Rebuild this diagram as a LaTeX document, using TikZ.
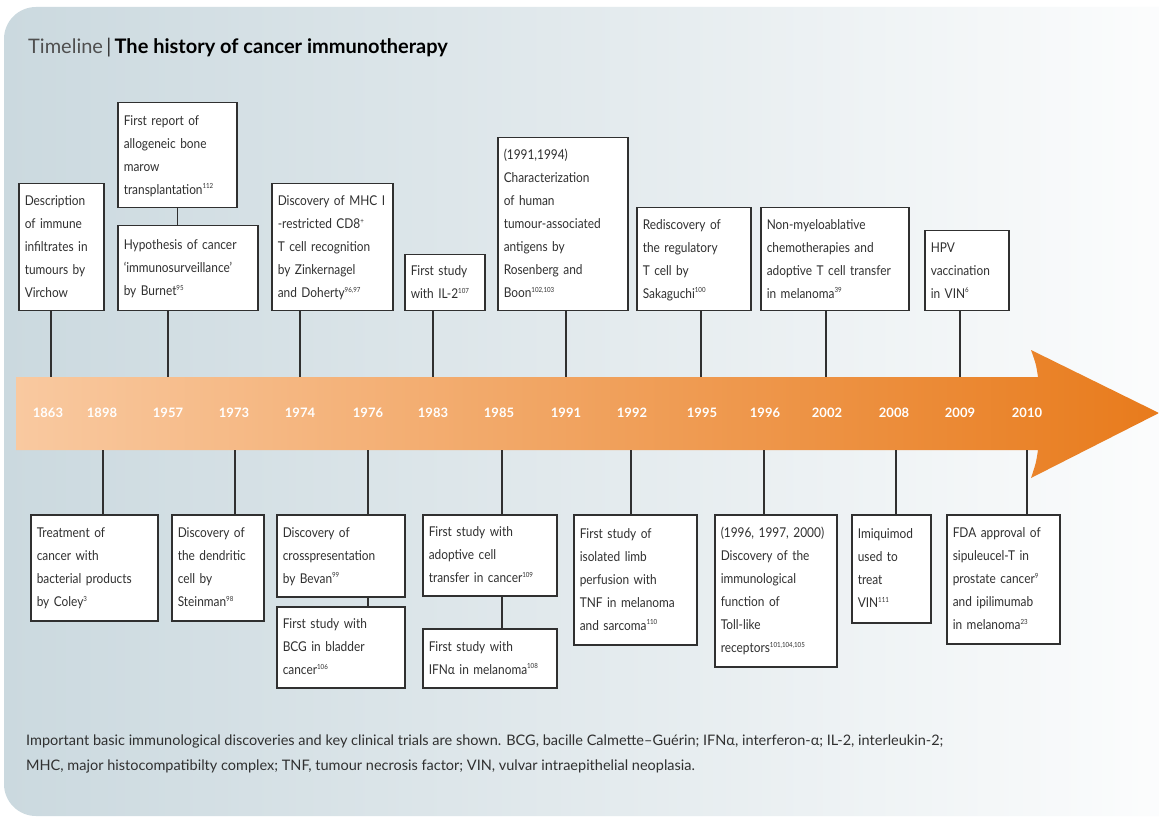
\documentclass[tikz,border=0pt]{standalone}
\usepackage{fontspec}
\setmainfont{Lato}
\newfontfamily\boxfont{Lato}[FakeStretch=0.88]
\definecolor{panelL}{HTML}{CBD9DF}
\definecolor{panelM}{HTML}{E4EBEE}
\definecolor{arrL}{HTML}{F9C9A0}
\definecolor{arrR}{HTML}{E87B1C}
\definecolor{ink}{HTML}{303030}
\newcommand\supref[1]{\raisebox{0.8ex}{\fontsize{7}{7}\selectfont #1}}
\newcommand\boxlines[1]{\begin{tabular}{@{}l@{}}#1\end{tabular}}
\begin{document}
\begin{tikzpicture}[x=1pt,y=-1pt,
  box/.style={draw=ink, line width=1.5pt, fill=white, anchor=north west, inner xsep=6pt, inner ysep=2pt,
    align=left, font=\boxfont\fontsize{13.5}{23}\selectfont, text=ink},
  conn/.style={draw=ink, line width=1.1pt},
  yr/.style={text=white, font=\bfseries\fontsize{13}{13}\selectfont, inner sep=0pt}]
\useasboundingbox (0,0) rectangle (1159,818);
\fill[white] (0,0) rectangle (1159,818);
\shade[left color=panelL, right color=white, middle color=panelM, rounded corners=32pt] (4,7) rectangle (1240,816);
% arrow
\shade[left color=arrL, right color=arrR] (16,377) -- (1038,377) .. controls (1036,364) .. (1031,350)
  -- (1159,413) -- (1031,478) .. controls (1036,463) .. (1038,450) -- (16,450) -- cycle;
% title
\node[anchor=west, inner sep=0pt, font=\fontsize{20}{20}\selectfont, text=ink] (title) at (28,48)
  {{\color{ink!85}Timeline}\,|\,\textbf{\color{black}The history of cancer immunotherapy}};
% years
\foreach \y/\x in {1863/48,1898/102,1957/168,1973/234,1974/300,1976/368,1983/433,1985/499,1991/566,1992/632,1995/702,1996/765,2002/827,2008/894,2009/960,2010/1027}
  \node[yr] (y\y) at (\x,413) {\y};
% connection points on the band
\foreach \n/\x in {1863/51,1957/168,1974/300,1983/433,1991/566,1995/701,2002/826,2009/960}
  \coordinate (t\n) at (\x,377);
\foreach \n/\x in {1898/103,1973/235,1976/368,1985/502,1992/631,1996/764,2008/896,2010/1027}
  \coordinate (b\n) at (\x,450);
% top boxes
\node[box, text width=73pt, minimum height=127pt] (virchow) at (18,183) {\boxlines{Description\\of immune\\infiltrates in\\tumours by\\Virchow}};
\node[box, text width=107pt, minimum height=105pt] (marrow) at (117,102) {\boxlines{First report of\\allogeneic bone\\marow\\transplantation\supref{112}}};
\node[box, text width=128pt, minimum height=85pt] (burnet) at (117,225) {\boxlines{Hypothesis of cancer\\‘immunosurveillance’\\by Burnet\supref{95}}};
\node[box, text width=109pt, minimum height=127pt] (mhc) at (271,183) {\boxlines{Discovery of MHC I\\-restricted CD8\supref{+}\\T cell recognition\\by Zinkernagel\\and Doherty\supref{96,97}}};
\node[box, text width=68pt, minimum height=56pt] (il2) at (404,254) {\boxlines{First study\\with IL-2\supref{107}}};
\node[box, text width=118pt, minimum height=173pt] (rosen) at (497,137) {\boxlines{(1991,1994)\\Characterization\\of human\\tumour-associated\\antigens by\\Rosenberg and\\Boon\supref{102,103}}};
\node[box, text width=102pt, minimum height=103pt] (sakag) at (636,207) {\boxlines{Rediscovery of\\the regulatory\\T cell by\\Sakaguchi\supref{100}}};
\node[box, text width=136pt, minimum height=103pt] (nonmy) at (760,207) {\boxlines{Non-myeloablative\\chemotherapies and\\adoptive T cell transfer\\in melanoma\supref{39}}};
\node[box, text width=72pt, minimum height=80pt] (hpv) at (924,230) {\boxlines{HPV\\vaccination\\in VIN\supref{6}}};
% bottom boxes
\node[box, text width=115pt, minimum height=106pt] (coley) at (30,514) {\boxlines{Treatment of\\cancer with\\bacterial products\\by Coley\supref{3}}};
\node[box, text width=80pt, minimum height=106pt] (stein) at (171,514) {\boxlines{Discovery of\\the dendritic\\cell by\\Steinman\supref{98}}};
\node[box, text width=116pt, minimum height=82pt] (bevan) at (276,514) {\boxlines{Discovery of\\crosspresentation\\by Bevan\supref{99}}};
\node[box, text width=116pt, minimum height=81pt] (bcg) at (276,606) {\boxlines{First study with\\BCG in bladder\\cancer\supref{106}}};
\node[box, text width=122pt, minimum height=81pt] (adopt) at (422,514) {\boxlines{First study with\\adoptive cell\\transfer in cancer\supref{109}}};
\node[box, text width=122pt, minimum height=59pt] (ifn) at (422,628) {\boxlines{First study with\\IFNα in melanoma\supref{108}}};
\node[box, text width=111pt, minimum height=130pt] (tnf) at (573,514) {\boxlines{First study of\\isolated limb\\perfusion with\\TNF in melanoma\\and sarcoma\supref{110}}};
\node[box, text width=110pt, minimum height=152pt] (toll) at (714,514) {\boxlines{(1996, 1997, 2000)\\Discovery of the\\immunological\\function of\\Toll-like\\receptors\supref{101,104,105}}};
\node[box, text width=67pt, minimum height=108pt] (imiq) at (851,514) {\boxlines{Imiquimod\\used to\\treat\\VIN\supref{111}}};
\node[box, text width=101pt, minimum height=129pt] (fda) at (946,514) {\boxlines{FDA approval of\\sipuleucel-T in\\prostate cancer\supref{9}\\and ipilimumab\\in melanoma\supref{23}}};
% connectors
\draw[conn] (virchow.south -| t1863) -- (t1863);
\draw[conn] (marrow.south) -- (burnet.north -| marrow.south);
\draw[conn] (burnet.south -| t1957) -- (t1957);
\draw[conn] (mhc.south -| t1974) -- (t1974);
\draw[conn] (il2.south -| t1983) -- (t1983);
\draw[conn] (rosen.south -| t1991) -- (t1991);
\draw[conn] (sakag.south -| t1995) -- (t1995);
\draw[conn] (nonmy.south -| t2002) -- (t2002);
\draw[conn] (hpv.south -| t2009) -- (t2009);
\draw[conn] (b1898) -- (coley.north -| b1898);
\draw[conn] (b1973) -- (stein.north -| b1973);
\draw[conn] (b1976) -- (bevan.north -| b1976);
\draw[conn] (bevan.south -| b1976) -- (bcg.north -| b1976);
\draw[conn] (b1985) -- (adopt.north -| b1985);
\draw[conn] (adopt.south -| b1985) -- (ifn.north -| b1985);
\draw[conn] (b1992) -- (tnf.north -| b1992);
\draw[conn] (b1996) -- (toll.north -| b1996);
\draw[conn] (b2008) -- (imiq.north -| b2008);
\draw[conn] (b2010) -- (fda.north -| b2010);
% caption
\node[anchor=north west, align=left, inner sep=0pt, font=\fontsize{14.5}{25}\selectfont, text=ink] (caption) at (26,735)
  {Important basic immunological discoveries and key clinical trials are shown. BCG, bacille Calmette–Guérin; IFNα, interferon-α; IL-2, interleukin-2;\\
   MHC, major histocompatibilty complex; TNF, tumour necrosis factor; VIN, vulvar intraepithelial neoplasia.};
\end{tikzpicture}
\end{document}
